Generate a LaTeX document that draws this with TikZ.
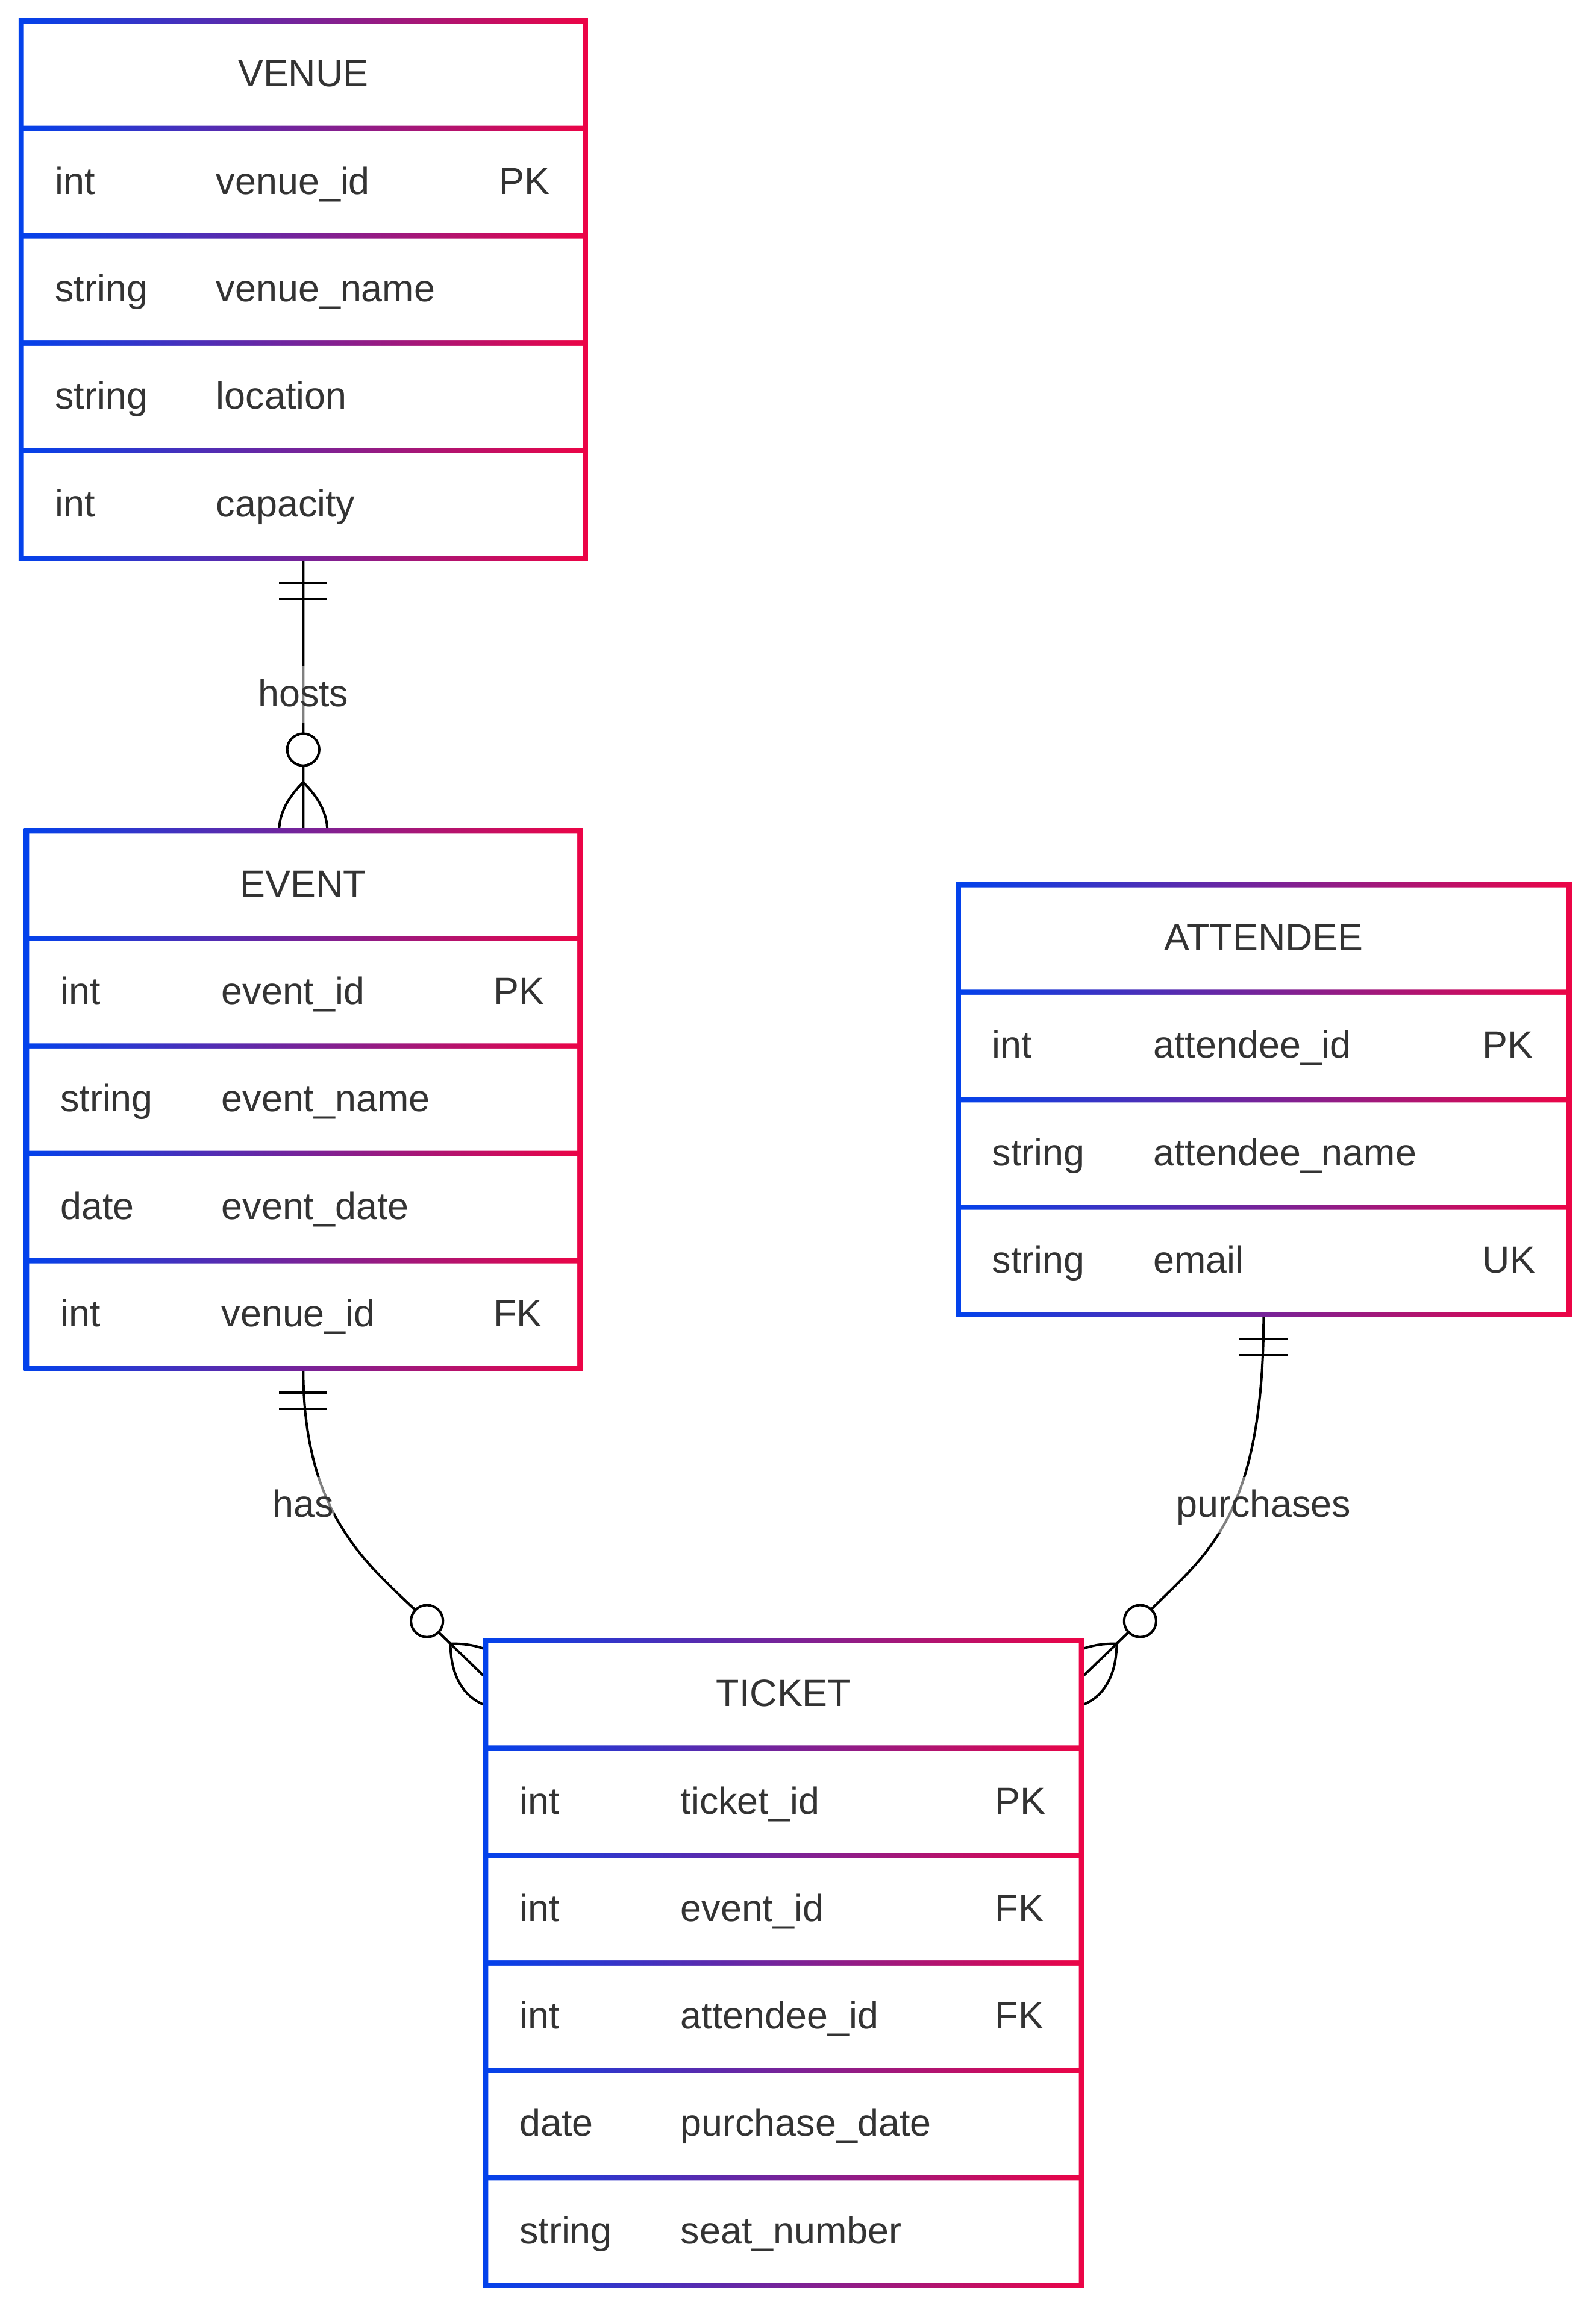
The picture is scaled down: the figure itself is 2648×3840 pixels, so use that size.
\documentclass[tikz,border=0pt]{standalone}
\usepackage{fontspec}
\setmainfont{Liberation Sans}
\usetikzlibrary{calc}

\definecolor{erblue}{RGB}{2,66,236}
\definecolor{erred}{RGB}{236,4,70}
\definecolor{ertext}{HTML}{333333}

\pgfdeclarelayer{background}
\pgfsetlayers{background,main}

\tikzset{
  entbox/.style={rectangle, inner sep=0pt},
  entframe/.style={left color=erblue, right color=erred},
  txt/.style={inner sep=0pt, text height=19pt, text depth=7.6pt, text=ertext,
    font=\fontsize{17.87}{21}\selectfont},
  attr/.style={txt, anchor=west},
  enthead/.style={txt},
  rlabel/.style={txt, fill=white, fill opacity=0.5, text opacity=1},
  link/.style={draw=black, line width=1.15pt},
}

\begin{document}
\begin{tikzpicture}[x=0.01cm, y=-0.01cm]
  \useasboundingbox (0,0) rectangle (2648,3840);

  \node[entbox, minimum width=9.363cm, minimum height=8.915cm] (venue) at (503.35, 480.45) {};
  \node[entbox, minimum width=9.185cm, minimum height=8.915cm] (event) at (503.25, 1824.75) {};
  \node[entbox, minimum width=10.132cm, minimum height=7.132cm] (attendee) at (2097.3, 1824.9) {};
  \node[entbox, minimum width=9.89cm, minimum height=10.698cm] (ticket) at (1300.5, 3257.4) {};

  \coordinate (hasEnd) at ($(ticket.north west)+(0,61.7)$);
  \coordinate (buyEnd) at ($(ticket.north east)+(0,61.7)$);
  \coordinate (hasBend) at ($(hasEnd)+(-96.35,-93.13)$);
  \coordinate (buyBend) at ($(buyEnd)+(96.35,-93.13)$);

  \begin{pgfonlayer}{background}
    \fill[white] (0,0) rectangle (2648,3840);

    \draw[link] (venue.south) -- (event.north);
    \draw[link] (event.south) .. controls +(0,250) and +(-93.5,-90.35) .. (hasBend) -- (hasEnd);
    \draw[link] (attendee.south) .. controls +(0,360) and +(94.1,-102.6) .. (buyBend) -- (buyEnd);

    % exactly one
    \draw[link] ($(venue.south)+(-40,40)$) -- ($(venue.south)+(40,40)$);
    \draw[link] ($(venue.south)+(-40,66.7)$) -- ($(venue.south)+(40,66.7)$);
    \draw[link] ($(event.south)+(-40,40)$) -- ($(event.south)+(40,40)$);
    \draw[link] ($(event.south)+(-40,66.7)$) -- ($(event.south)+(40,66.7)$);
    \draw[link] ($(attendee.south)+(-40,40)$) -- ($(attendee.south)+(40,40)$);
    \draw[link] ($(attendee.south)+(-40,66.7)$) -- ($(attendee.south)+(40,66.7)$);

    % zero or more
    \begin{scope}[shift={(event.north)}, x={(0cm,-0.01cm)}, y={(0.01cm,0cm)}]
      \draw[link] (-80,0) .. controls (-26.7,53.3) and (26.7,53.3) .. (80,0)
        .. controls (26.7,-53.3) and (-26.7,-53.3) .. cycle;
      \draw[link, fill=white] (-134,0) circle[radius=26.6];
    \end{scope}
    \begin{scope}[shift={(hasEnd)}, x={(0.00719cm,-0.00695cm)}, y={(0.00695cm,0.00719cm)}]
      \draw[link] (-80,0) .. controls (-26.7,53.3) and (26.7,53.3) .. (80,0)
        .. controls (26.7,-53.3) and (-26.7,-53.3) .. cycle;
      \draw[link, fill=white] (-134,0) circle[radius=26.6];
    \end{scope}
    \begin{scope}[shift={(buyEnd)}, x={(-0.00719cm,-0.00695cm)}, y={(0.00695cm,-0.00719cm)}]
      \draw[link] (-80,0) .. controls (-26.7,53.3) and (26.7,53.3) .. (80,0)
        .. controls (26.7,-53.3) and (-26.7,-53.3) .. cycle;
      \draw[link, fill=white] (-134,0) circle[radius=26.6];
    \end{scope}
  \end{pgfonlayer}

  \node[rlabel] (hostsLabel) at ($(venue.south)!0.5!(event.north)$) {hosts};
  \node[rlabel] (hasLabel) at ($(event.south)+(0,226)$) {has};
  \node[rlabel] (buyLabel) at ($(attendee.south)+(0,315)$) {purchases};

  % VENUE
  \shade[entframe] (30.85,30.35) rectangle (975.85,930.55);
  \fill[white] (39.55,39.05) rectangle (967.15,208.65) (39.55,217.35) rectangle (967.15,386.95)
    (39.55,395.65) rectangle (967.15,565.25) (39.55,573.95) rectangle (967.15,743.55)
    (39.55,752.25) rectangle (967.15,921.85);
  \node[enthead] (venueTitle) at (503.35, 123.85) {VENUE};
  \node[attr] (venueT1) at (90.7, 302.15) {int};
  \node[attr] (venueN1) at (358.2, 302.15) {venue\_id};
  \node[attr] (venueK1) at (827.5, 302.15) {PK};
  \node[attr] (venueT2) at (90.7, 480.45) {string};
  \node[attr] (venueN2) at (358.2, 480.45) {venue\_name};
  \node[attr] (venueT3) at (90.7, 658.75) {string};
  \node[attr] (venueN3) at (358.2, 658.75) {location};
  \node[attr] (venueT4) at (90.7, 837.05) {int};
  \node[attr] (venueN4) at (358.2, 837.05) {capacity};

  % EVENT
  \shade[entframe] (39.65,1374.65) rectangle (966.85,2274.85);
  \fill[white] (48.35,1383.35) rectangle (958.15,1552.95) (48.35,1561.65) rectangle (958.15,1731.25)
    (48.35,1739.95) rectangle (958.15,1909.55) (48.35,1918.25) rectangle (958.15,2087.85)
    (48.35,2096.55) rectangle (958.15,2266.15);
  \node[enthead] (eventTitle) at (503.25, 1468.15) {EVENT};
  \node[attr] (eventT1) at (99.5, 1646.45) {int};
  \node[attr] (eventN1) at (367, 1646.45) {event\_id};
  \node[attr] (eventK1) at (818.5, 1646.45) {PK};
  \node[attr] (eventT2) at (99.5, 1824.75) {string};
  \node[attr] (eventN2) at (367, 1824.75) {event\_name};
  \node[attr] (eventT3) at (99.5, 2003.05) {date};
  \node[attr] (eventN3) at (367, 2003.05) {event\_date};
  \node[attr] (eventT4) at (99.5, 2181.35) {int};
  \node[attr] (eventN4) at (367, 2181.35) {venue\_id};
  \node[attr] (eventK4) at (818.5, 2181.35) {FK};

  % ATTENDEE
  \shade[entframe] (1586.35,1463.95) rectangle (2608.25,2185.85);
  \fill[white] (1595.05,1472.65) rectangle (2599.55,1642.25) (1595.05,1650.95) rectangle (2599.55,1820.55)
    (1595.05,1829.25) rectangle (2599.55,1998.85) (1595.05,2007.55) rectangle (2599.55,2177.15);
  \node[enthead] (attendeeTitle) at (2097.3, 1557.45) {ATTENDEE};
  \node[attr] (attendeeT1) at (1646.2, 1735.75) {int};
  \node[attr] (attendeeN1) at (1913.7, 1735.75) {attendee\_id};
  \node[attr] (attendeeK1) at (2459.9, 1735.75) {PK};
  \node[attr] (attendeeT2) at (1646.2, 1914.05) {string};
  \node[attr] (attendeeN2) at (1913.7, 1914.05) {attendee\_name};
  \node[attr] (attendeeT3) at (1646.2, 2092.35) {string};
  \node[attr] (attendeeN3) at (1913.7, 2092.35) {email};
  \node[attr] (attendeeK3) at (2459.9, 2092.35) {UK};

  % TICKET
  \shade[entframe] (801.65,2718.15) rectangle (1799.35,3796.65);
  \fill[white] (810.35,2726.85) rectangle (1790.65,2896.45) (810.35,2905.15) rectangle (1790.65,3074.75)
    (810.35,3083.45) rectangle (1790.65,3253.05) (810.35,3261.75) rectangle (1790.65,3431.35)
    (810.35,3440.05) rectangle (1790.65,3609.65) (810.35,3618.35) rectangle (1790.65,3787.95);
  \node[enthead] (ticketTitle) at (1300.5, 2811.65) {TICKET};
  \node[attr] (ticketT1) at (861.5, 2989.95) {int};
  \node[attr] (ticketN1) at (1129, 2989.95) {ticket\_id};
  \node[attr] (ticketK1) at (1651, 2989.95) {PK};
  \node[attr] (ticketT2) at (861.5, 3168.25) {int};
  \node[attr] (ticketN2) at (1129, 3168.25) {event\_id};
  \node[attr] (ticketK2) at (1651, 3168.25) {FK};
  \node[attr] (ticketT3) at (861.5, 3346.55) {int};
  \node[attr] (ticketN3) at (1129, 3346.55) {attendee\_id};
  \node[attr] (ticketK3) at (1651, 3346.55) {FK};
  \node[attr] (ticketT4) at (861.5, 3524.85) {date};
  \node[attr] (ticketN4) at (1129, 3524.85) {purchase\_date};
  \node[attr] (ticketT5) at (861.5, 3703.15) {string};
  \node[attr] (ticketN5) at (1129, 3703.15) {seat\_number};
\end{tikzpicture}
\end{document}
